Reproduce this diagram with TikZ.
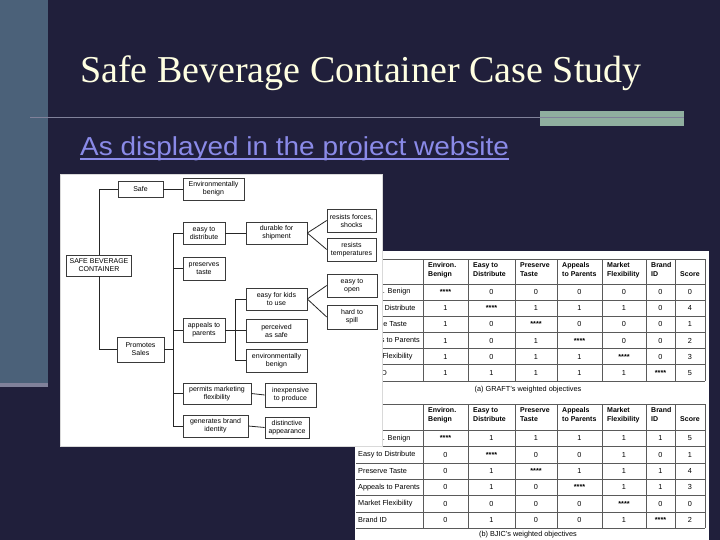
\documentclass[tikz,border=0pt]{standalone}
\usepackage{fontspec}
\setmainfont{Liberation Serif}
\setsansfont{Liberation Sans}
\usetikzlibrary{shadows}
\definecolor{navy}{HTML}{201F3B}
\definecolor{slate}{HTML}{4B6179}
\definecolor{rulegrey}{HTML}{80819A}
\definecolor{sage}{HTML}{8FAE9F}
\definecolor{cream}{HTML}{FFFFE2}
\definecolor{weblinkc}{HTML}{8A8AE8}
\definecolor{ink}{HTML}{3A3A3A}
\definecolor{gridc}{HTML}{5A5A5A}
\newcommand{\wstars}{\raisebox{-.3em}{\bfseries****}}
\tikzset{
  slidetitle/.style={anchor=base west,inner sep=0pt,text=cream,font=\fontsize{38}{40}\selectfont},
  weblink/.style={anchor=base west,inner sep=0pt,text=weblinkc,
    font=\sffamily\fontsize{26}{28}\selectfont\addfontfeature{FakeStretch=1.075}},
  goal/.style n args={2}{draw=ink,line width=0.6pt,fill=white,align=center,inner sep=0.5pt,
    font=\sffamily\fontsize{7}{8}\selectfont,minimum width=#1pt,minimum height=#2pt,
    drop shadow={fill=black!30,shadow xshift=0.6pt,shadow yshift=-1.4pt,opacity=1}},
  tie/.style={draw=black!85,line width=0.8pt},
  gridline/.style={draw=gridc,line width=0.6pt},
  colhead/.style={anchor=north west,inner sep=0pt,align=left,font=\sffamily\bfseries\fontsize{7}{8.5}\selectfont},
  rowlab/.style={anchor=west,inner sep=0pt,font=\sffamily\fontsize{7.3}{8}\selectfont},
  cell/.style={inner sep=0pt,font=\sffamily\fontsize{7.3}{8}\selectfont},
  caption/.style={inner sep=0pt,font=\sffamily\fontsize{7.3}{8}\selectfont}
}
% #1 prefix, #2 top, #3 header bottom, #4 row height, #5 rows, #6 caption, #7 caption y
\newcommand{\weightedtable}[7]{%
  \pgfmathsetmacro{\tbot}{#3+6*#4}
  \draw[gridline] (356,#2) -- (705,#2);
  \draw[gridline] (356,#3) -- (705,#3);
  \foreach \cx in {423,468,515,557,602,646,675,705}
    \draw[gridline] (\cx,#2) -- (\cx,\tbot);
  \foreach \hx/\htxt [count=\j] in {423/{Environ.\\Benign},468/{Easy to\\Distribute},515/{Preserve\\Taste},
      557/{Appeals\\to Parents},602/{Market\\Flexibility},646/{Brand\\ID}}
    \node[colhead] (#1-h\j) at (\hx+5,#2+3.5) {\htxt};
  \node[colhead] (#1-h7) at (680,#2+12) {Score};
  \foreach \lab/\va/\vb/\vc/\vd/\ve/\vf/\vs [count=\i] in {#5} {
    \pgfmathsetmacro{\ry}{#3+(\i-0.5)*#4}
    \node[rowlab] (#1-r\i) at (358,\ry) {\lab};
    \foreach \cx/\v [count=\k] in {445.5/\va,491.5/\vb,536/\vc,579.5/\vd,624/\ve,660.5/\vf,690/\vs}
      \node[cell] (#1-\i-\k) at (\cx,\ry) {\v};
    \draw[gridline] (356,#3+\i*#4) -- (705,#3+\i*#4);
  }
  \node[caption] (#1-cap) at (528,#7) {#6};
}

\begin{document}
\begin{tikzpicture}[x=1pt,y=-1pt]
\useasboundingbox[fill=navy] (0,0) rectangle (720,540);
% slide decoration
\fill[slate] (0,0) rectangle (48,383);
\fill[rulegrey] (0,383) rectangle (48,387);
\fill[sage] (540,111) rectangle (684,126);
\draw[rulegrey,line width=1.6pt] (30,117.7) -- (684,117.7);
\node[slidetitle] (ttl) at (80,83) {Safe Beverage Container Case Study};
\node[weblink] (lnk) at (80,156) {As displayed in the project website};
\draw[weblinkc,line width=1.4pt] ([yshift=-3pt]lnk.base west) -- ([yshift=-3pt]lnk.base east);

% weighted objective tables
\fill[white] (355,251) rectangle (709,540);
\weightedtable{ga}{259}{284}{16.15}{Environ. Benign/\wstars/0/0/0/0/0/0,Easy to Distribute/1/\wstars/1/1/1/0/4,
  Preserve Taste/1/0/\wstars/0/0/0/1,Appeals to Parents/1/0/1/\wstars/0/0/2,
  Market Flexibility/1/0/1/1/\wstars/0/3,Brand ID/1/1/1/1/1/\wstars/5}{(a) GRAFT's weighted objectives}{390}
\weightedtable{bj}{404}{430}{16.4}{Environ. Benign/\wstars/1/1/1/1/1/5,Easy to Distribute/0/\wstars/0/0/1/0/1,
  Preserve Taste/0/1/\wstars/1/1/1/4,Appeals to Parents/0/1/0/\wstars/1/1/3,
  Market Flexibility/0/0/0/0/\wstars/0/0,Brand ID/0/1/0/0/1/\wstars/2}{(b) BJIC's weighted objectives}{535}

% objectives tree
\fill[white,draw=black!15] (60,174) rectangle (382,446);
\node[goal={65}{21}] (root) at (99,265.5) {SAFE BEVERAGE\\CONTAINER};
\node[goal={45}{16}] (safe) at (140.5,189) {Safe};
\node[goal={61}{22}] (envb) at (213.5,189) {Environmentally\\benign};
\node[goal={47}{25}] (promo) at (140.5,349.5) {Promotes\\Sales};
\node[goal={42}{22}] (easyd) at (204,233) {easy to\\distribute};
\node[goal={42}{23}] (pres) at (204,268.5) {preserves\\taste};
\node[goal={42}{24}] (appeal) at (204,330) {appeals to\\parents};
\node[goal={68}{21}] (permit) at (217,393.5) {permits marketing\\flexibility};
\node[goal={65}{22}] (brand) at (215.5,426) {generates brand\\identity};
\node[goal={61}{22}] (durable) at (276.5,233) {durable for\\shipment};
\node[goal={49}{23}] (forces) at (351.5,220.5) {resists forces,\\shocks};
\node[goal={49}{23}] (temps) at (351.5,249.5) {resists\\temperatures};
\node[goal={61}{22}] (kids) at (276.5,299) {easy for kids\\to use};
\node[goal={50}{23}] (open) at (352,285.5) {easy to\\open};
\node[goal={50}{24}] (spill) at (352,317) {hard to\\spill};
\node[goal={61}{23}] (seensafe) at (276.5,330.5) {perceived\\as safe};
\node[goal={61}{23}] (envb2) at (276.5,360.5) {environmentally\\benign};
\node[goal={51}{24}] (cheap) at (290.5,395) {inexpensive\\to produce};
\node[goal={44}{21}] (look) at (287,427.5) {distinctive\\appearance};
\coordinate (spine) at (173,0);
\coordinate (spine2) at (235,0);
\draw[tie] (root.north) |- (safe.west);
\draw[tie] (root.south) |- (promo.west);
\draw[tie] (safe.east) -- (envb.west);
\draw[tie] (easyd.west) -- (easyd.west -| spine) -- (brand.west -| spine) -- (brand.west);
\draw[tie] (pres.west) -- (pres.west -| spine);
\draw[tie] (appeal.west) -- (appeal.west -| spine);
\draw[tie] (permit.west) -- (permit.west -| spine);
\draw[tie] (promo.east) -- (promo.east -| spine);
\draw[tie] (easyd.east) -- (durable.west);
\draw[tie] (durable.east) -- (forces.west);
\draw[tie] (durable.east) -- (temps.west);
\draw[tie] (kids.west) -- (kids.west -| spine2) -- (envb2.west -| spine2) -- (envb2.west);
\draw[tie] (seensafe.west) -- (seensafe.west -| spine2);
\draw[tie] (appeal.east) -- (appeal.east -| spine2);
\draw[tie] (kids.east) -- (open.west);
\draw[tie] (kids.east) -- (spill.west);
\draw[tie] (permit.east) -- (cheap.west);
\draw[tie] (brand.east) -- (look.west);
\end{tikzpicture}
\end{document}
